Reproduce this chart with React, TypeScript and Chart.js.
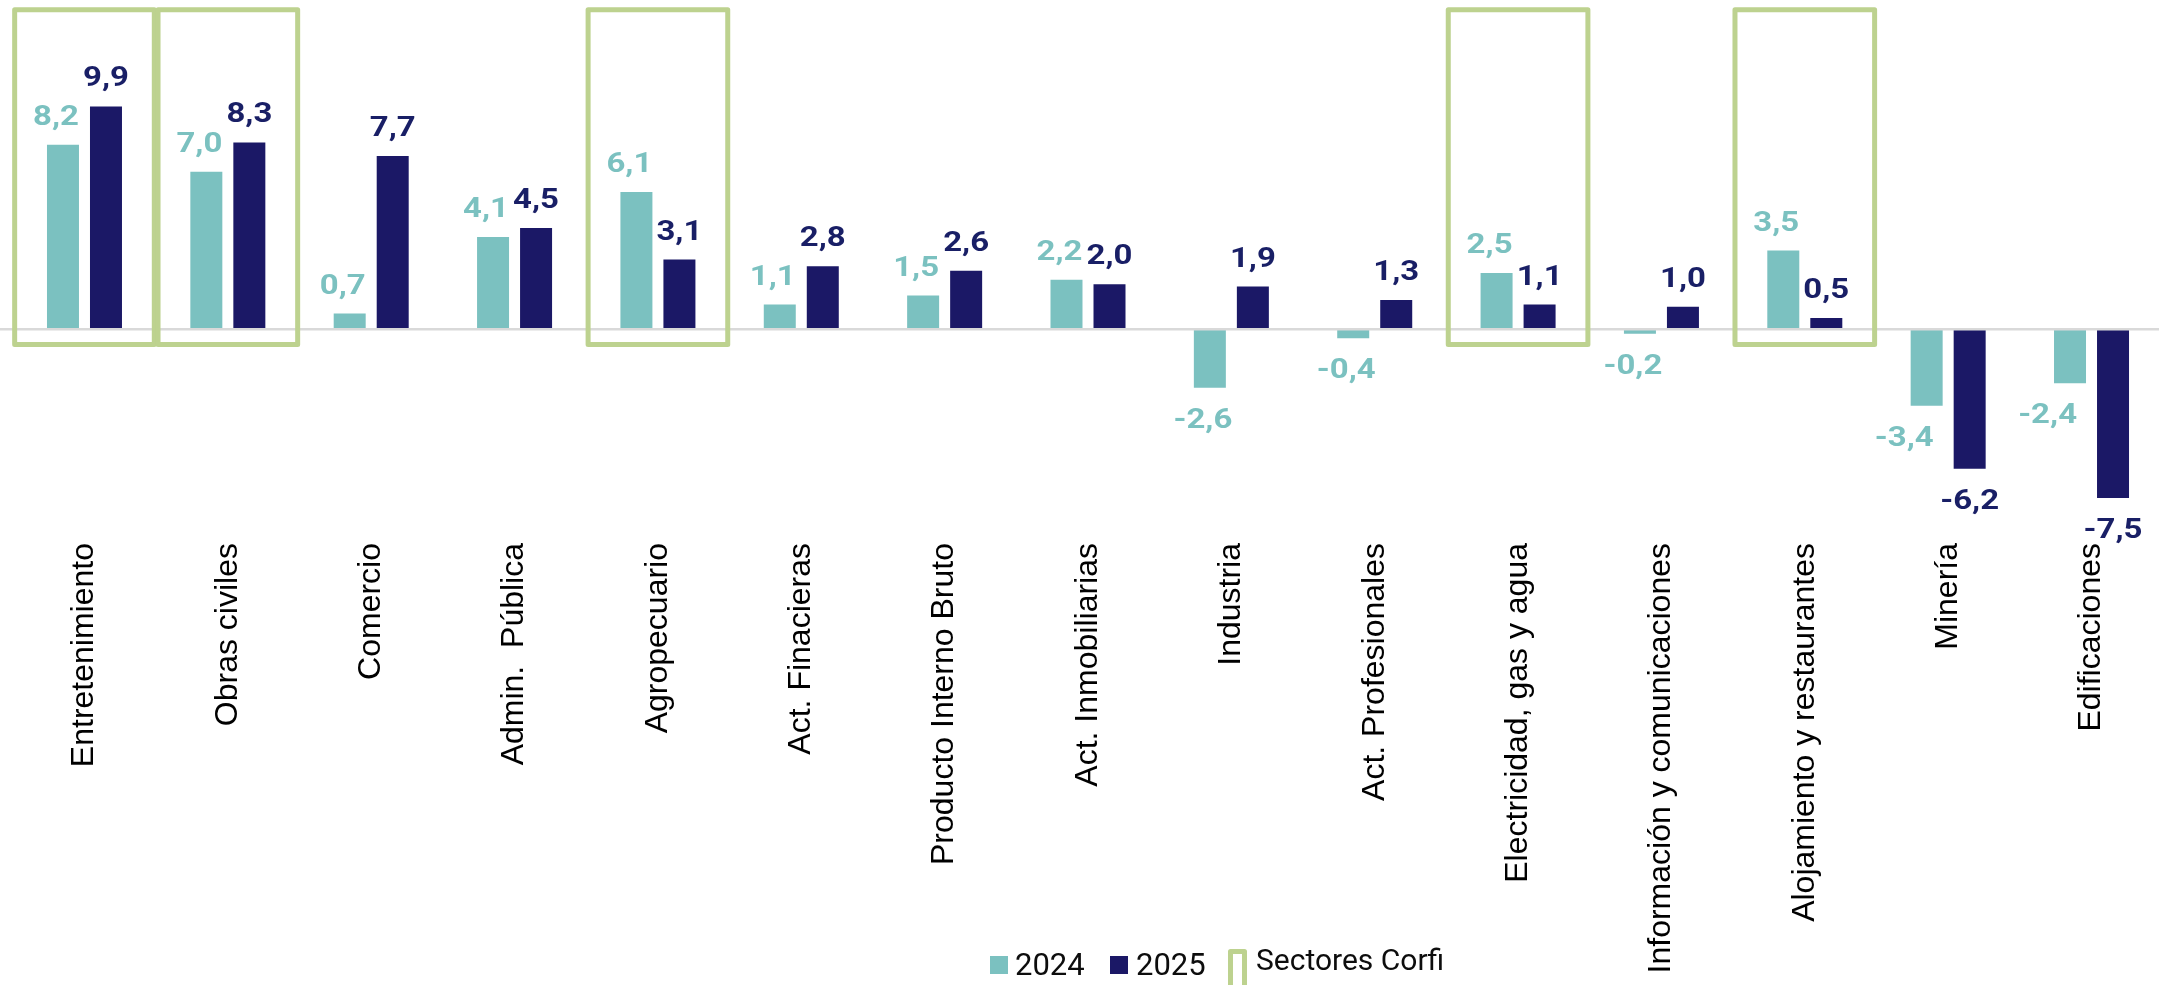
import React, { useEffect, useRef } from 'react';
import { Chart, registerables } from 'chart.js';

Chart.register(...registerables);

const categories = [
  'Entretenimiento',
  'Obras civiles',
  'Comercio',
  'Admin.  Pública',
  'Agropecuario',
  'Act. Finacieras',
  'Producto Interno Bruto',
  'Act. Inmobiliarias',
  'Industria',
  'Act. Profesionales',
  'Electricidad, gas y agua',
  'Información y comunicaciones',
  'Alojamiento y restaurantes',
  'Minería',
  'Edificaciones',
];
const values2024 = [8.2, 7.0, 0.7, 4.1, 6.1, 1.1, 1.5, 2.2, -2.6, -0.4, 2.5, -0.2, 3.5, -3.4, -2.4];
const values2025 = [9.9, 8.3, 7.7, 4.5, 3.1, 2.8, 2.6, 2.0, 1.9, 1.3, 1.1, 1.0, 0.5, -6.2, -7.5];
const corfiSectors = [
  'Entretenimiento',
  'Obras civiles',
  'Agropecuario',
  'Electricidad, gas y agua',
  'Alojamiento y restaurantes',
];
const corfiRange = [-0.68, 14.2];
const seriesNames = ['2024', '2025'];
const corfiName = 'Sectores Corfi';

const TEAL = '#7BC1C0';
const NAVY = '#1B1866';
const NAVY_LABEL = '#191F66';
const GREEN = '#BDD28F';

const CANVAS_W = 2170;
const CANVAS_H = 985;

const overlayPlugin = {
  id: 'overlay',
  afterDatasetsDraw(chart: any) {
    const { ctx } = chart;
    const xs = chart.scales.x;
    const ys = chart.scales.y;
    const zeroY = ys.getPixelForValue(0);

    // zero line
    ctx.save();
    ctx.strokeStyle = '#D9D9D9';
    ctx.lineWidth = 2.5;
    ctx.beginPath();
    ctx.moveTo(0, zeroY);
    ctx.lineTo(chart.width, zeroY);
    ctx.stroke();
    ctx.restore();

    // Corfi boxes
    const catW = xs.width / categories.length;
    const bw = catW * 0.974;
    const yTop = ys.getPixelForValue(corfiRange[1]);
    const yBot = ys.getPixelForValue(corfiRange[0]);
    ctx.save();
    ctx.strokeStyle = GREEN;
    ctx.lineWidth = 5;
    ctx.lineJoin = 'round';
    corfiSectors.forEach((name) => {
      const idx = categories.indexOf(name);
      const cx = xs.getPixelForValue(idx);
      ctx.strokeRect(cx - bw / 2, yTop, bw, yBot - yTop);
    });
    ctx.restore();

    // value labels
    const colors = [TEAL, NAVY_LABEL];
    const SX = 1.22;
    const navyMeta = chart.getDatasetMeta(1);
    chart.data.datasets.forEach((ds: any, di: number) => {
      const meta = chart.getDatasetMeta(di);
      meta.data.forEach((bar: any, i: number) => {
        const v = ds.data[i];
        const txt = v.toFixed(1).replace('.', ',');
        ctx.save();
        ctx.font = 'bold 27px Roboto';
        const tw = ctx.measureText(txt).width * SX;
        let x = bar.x + (di === 0 ? -7 : 0);
        if (di === 0 && v < 0) {
          const other = navyMeta.data[i];
          const ov = chart.data.datasets[1].data[i];
          if (ov < v - 1) {
            const navyLeft = other.x - other.width / 2;
            x = Math.min(x, navyLeft - 20 - tw / 2);
          }
        }
        const y = v >= 0 ? bar.y - 20 : bar.y + 40;
        ctx.fillStyle = colors[di];
        ctx.textAlign = 'center';
        ctx.textBaseline = 'alphabetic';
        ctx.translate(x, y);
        ctx.scale(SX, 1);
        ctx.fillText(txt, 0, 0);
        ctx.restore();
      });
    });
  },
  afterDraw(chart: any) {
    const { ctx } = chart;
    ctx.save();
    ctx.font = '31px Roboto';
    ctx.textBaseline = 'alphabetic';
    ctx.textAlign = 'left';
    let x = 990;
    // 2024
    ctx.fillStyle = TEAL;
    ctx.fillRect(x, 956, 18, 18);
    ctx.fillStyle = '#0D0D0D';
    ctx.fillText(seriesNames[0], x + 25, 975);
    x = 1110;
    // 2025
    ctx.fillStyle = NAVY;
    ctx.fillRect(x, 956, 18, 18);
    ctx.fillStyle = '#0D0D0D';
    ctx.fillText(seriesNames[1], x + 26, 975);
    x = 1228;
    // Corfi marker
    ctx.strokeStyle = GREEN;
    ctx.lineWidth = 5;
    ctx.lineJoin = 'round';
    ctx.strokeRect(x + 2.5, 951.5, 14, 42);
    ctx.font = '30px Roboto';
    ctx.fillStyle = '#0D0D0D';
    ctx.fillText(corfiName, x + 28, 970);
    ctx.restore();
  },
};

export default function App() {
  const ref = useRef<HTMLCanvasElement | null>(null);

  useEffect(() => {
    document.body.style.margin = '0';
    document.body.style.overflow = 'hidden';
    document.documentElement.style.overflow = 'hidden';
    const canvas = ref.current;
    if (!canvas) return;
    const chart = new Chart(canvas, {
      type: 'bar',
      data: {
        labels: categories,
        datasets: [
          {
            label: seriesNames[0],
            data: values2024,
            backgroundColor: TEAL,
            borderWidth: 0,
            categoryPercentage: 0.6,
            barPercentage: 0.744,
          },
          {
            label: seriesNames[1],
            data: values2025,
            backgroundColor: NAVY,
            borderWidth: 0,
            categoryPercentage: 0.6,
            barPercentage: 0.744,
          },
        ],
      },
      options: {
        responsive: false,
        animation: false,
        devicePixelRatio: 1,
        layout: { padding: { left: 12.8, right: CANVAS_W - 2163.2, top: 0, bottom: 0 } },
        plugins: {
          legend: { display: false },
          tooltip: { enabled: false },
        },
        scales: {
          x: {
            grid: { display: false, drawTicks: false },
            border: { display: false },
            ticks: {
              autoSkip: false,
              minRotation: 90,
              maxRotation: 90,
              padding: 8,
              color: '#000000',
              font: { family: '"Liberation Sans", Arial, sans-serif', size: 32 },
            },
            afterFit: (scale: any) => {
              scale.height = 450;
            },
          },
          y: {
            display: false,
            min: -9.14,
            max: 14.63,
          },
        },
      },
      plugins: [overlayPlugin],
    });
    return () => chart.destroy();
  }, []);

  return (
    <div style={{ width: CANVAS_W, height: CANVAS_H, position: 'relative' }}>
      <canvas ref={ref} width={CANVAS_W} height={CANVAS_H} style={{ display: 'block' }} />
    </div>
  );
}
